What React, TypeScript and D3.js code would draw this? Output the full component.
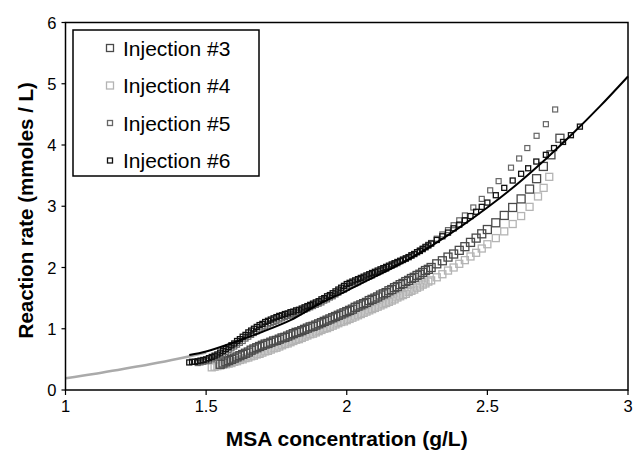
import React from "react";
import * as d3 from "d3";

const xTicks = [1, 1.5, 2, 2.5, 3];
const yTicks = [0, 1, 2, 3, 4, 5, 6];

const seriesNames = ["Injection #3", "Injection #4", "Injection #5", "Injection #6"];

const inj3X = [1.55,1.56,1.57,1.58,1.59,1.60,1.61,1.62,1.63,1.64,1.65,1.66,1.67,1.68,1.69,1.70,1.71,1.72,1.73,1.74,1.75,1.76,1.77,1.78,1.79,1.80,1.81,1.82,1.83,1.84,1.85,1.86,1.87,1.88,1.89,1.90,1.91,1.92,1.93,1.94,1.95,1.96,1.97,1.98,1.99,2.00,2.01,2.02,2.03,2.04,2.05,2.06,2.07,2.08,2.09,2.10,2.11,2.12,2.13,2.14,2.15,2.16,2.17,2.18,2.19,2.20,2.21,2.22,2.23,2.24,2.25,2.26,2.27,2.28,2.29,2.30,2.32,2.34,2.36,2.38,2.40,2.42,2.44,2.46,2.48,2.50,2.53,2.56,2.59,2.62,2.65,2.675,2.699,2.726,2.758];
const inj3Y = [0.42,0.44,0.46,0.48,0.50,0.52,0.54,0.56,0.58,0.60,0.62,0.65,0.67,0.69,0.71,0.73,0.75,0.76,0.78,0.80,0.81,0.83,0.85,0.86,0.88,0.90,0.92,0.94,0.95,0.97,0.99,1.01,1.03,1.04,1.06,1.08,1.10,1.12,1.14,1.16,1.18,1.20,1.22,1.24,1.26,1.28,1.30,1.32,1.35,1.37,1.39,1.41,1.43,1.46,1.48,1.50,1.52,1.55,1.57,1.59,1.62,1.64,1.67,1.69,1.72,1.74,1.77,1.79,1.82,1.84,1.87,1.89,1.92,1.95,1.97,2.00,2.06,2.11,2.17,2.22,2.28,2.34,2.41,2.48,2.55,2.62,2.73,2.85,2.98,3.12,3.28,3.45,3.65,3.84,4.11];

const inj4X = [1.52,1.53,1.54,1.55,1.56,1.57,1.58,1.59,1.60,1.61,1.62,1.63,1.64,1.65,1.66,1.67,1.68,1.69,1.70,1.71,1.72,1.73,1.74,1.75,1.76,1.77,1.78,1.79,1.80,1.81,1.82,1.83,1.84,1.85,1.86,1.87,1.88,1.89,1.90,1.91,1.92,1.93,1.94,1.95,1.96,1.97,1.98,1.99,2.00,2.01,2.02,2.03,2.04,2.05,2.06,2.07,2.08,2.09,2.10,2.11,2.12,2.13,2.14,2.15,2.16,2.17,2.18,2.19,2.20,2.21,2.22,2.23,2.24,2.25,2.26,2.27,2.28,2.29,2.30,2.32,2.34,2.36,2.38,2.40,2.42,2.44,2.46,2.48,2.50,2.53,2.56,2.59,2.62,2.65,2.68,2.70,2.72];
const inj4Y = [0.37,0.38,0.39,0.40,0.41,0.42,0.43,0.44,0.46,0.47,0.49,0.50,0.52,0.53,0.55,0.56,0.58,0.59,0.61,0.63,0.64,0.66,0.68,0.69,0.71,0.73,0.75,0.76,0.78,0.80,0.82,0.83,0.85,0.87,0.89,0.91,0.92,0.94,0.96,0.98,1.00,1.01,1.03,1.05,1.07,1.09,1.11,1.12,1.14,1.16,1.18,1.20,1.22,1.24,1.26,1.28,1.30,1.32,1.34,1.36,1.38,1.40,1.42,1.44,1.46,1.48,1.51,1.53,1.55,1.57,1.60,1.62,1.64,1.67,1.69,1.72,1.74,1.77,1.79,1.84,1.89,1.95,2.00,2.06,2.12,2.18,2.24,2.31,2.38,2.48,2.59,2.71,2.84,2.99,3.16,3.30,3.48];

const inj5X = [1.47,1.48,1.49,1.50,1.51,1.52,1.53,1.54,1.55,1.56,1.57,1.58,1.59,1.60,1.61,1.62,1.63,1.64,1.65,1.66,1.67,1.68,1.69,1.70,1.71,1.72,1.73,1.74,1.75,1.76,1.77,1.78,1.79,1.80,1.81,1.82,1.83,1.84,1.85,1.86,1.87,1.88,1.89,1.90,1.91,1.92,1.93,1.94,1.95,1.96,1.97,1.98,1.99,2.00,2.01,2.02,2.03,2.04,2.05,2.06,2.07,2.08,2.09,2.10,2.11,2.12,2.13,2.14,2.15,2.16,2.17,2.18,2.19,2.20,2.21,2.22,2.23,2.24,2.25,2.26,2.27,2.28,2.29,2.30,2.32,2.34,2.36,2.38,2.40,2.42,2.45,2.48,2.51,2.54,2.584,2.613,2.642,2.675,2.708,2.741];
const inj5Y = [0.44,0.45,0.46,0.47,0.48,0.50,0.52,0.54,0.56,0.59,0.62,0.65,0.68,0.71,0.74,0.77,0.80,0.84,0.87,0.90,0.93,0.96,0.99,1.02,1.04,1.07,1.09,1.11,1.13,1.15,1.17,1.19,1.21,1.22,1.24,1.26,1.27,1.29,1.31,1.33,1.35,1.37,1.39,1.41,1.43,1.46,1.48,1.51,1.53,1.56,1.59,1.62,1.64,1.67,1.70,1.72,1.74,1.76,1.79,1.81,1.83,1.85,1.87,1.90,1.92,1.94,1.96,1.98,2.01,2.03,2.05,2.07,2.10,2.12,2.14,2.17,2.19,2.22,2.25,2.28,2.31,2.34,2.37,2.40,2.47,2.54,2.61,2.69,2.77,2.85,2.98,3.12,3.26,3.41,3.63,3.78,3.95,4.15,4.34,4.58];

const inj6X = [1.44,1.45,1.46,1.47,1.48,1.49,1.50,1.51,1.52,1.53,1.54,1.55,1.56,1.57,1.58,1.59,1.60,1.61,1.62,1.63,1.64,1.65,1.66,1.67,1.68,1.69,1.70,1.71,1.72,1.73,1.74,1.75,1.76,1.77,1.78,1.79,1.80,1.81,1.82,1.83,1.84,1.85,1.86,1.87,1.88,1.89,1.90,1.91,1.92,1.93,1.94,1.95,1.96,1.97,1.98,1.99,2.00,2.01,2.02,2.03,2.04,2.05,2.06,2.07,2.08,2.09,2.10,2.11,2.12,2.13,2.14,2.15,2.16,2.17,2.18,2.19,2.20,2.21,2.22,2.23,2.24,2.25,2.26,2.27,2.28,2.29,2.30,2.32,2.34,2.36,2.38,2.40,2.42,2.44,2.46,2.48,2.50,2.53,2.56,2.59,2.62,2.645,2.674,2.708,2.737,2.769,2.797,2.829];
const inj6Y = [0.45,0.46,0.46,0.47,0.48,0.49,0.50,0.52,0.54,0.56,0.58,0.61,0.64,0.67,0.70,0.73,0.76,0.80,0.83,0.87,0.90,0.94,0.97,1.00,1.03,1.06,1.08,1.11,1.13,1.15,1.17,1.19,1.21,1.22,1.24,1.25,1.27,1.28,1.30,1.31,1.33,1.35,1.37,1.39,1.41,1.43,1.45,1.48,1.50,1.53,1.55,1.58,1.61,1.64,1.67,1.70,1.73,1.75,1.77,1.79,1.81,1.83,1.85,1.87,1.89,1.91,1.93,1.95,1.97,1.99,2.01,2.03,2.05,2.07,2.09,2.11,2.13,2.15,2.17,2.20,2.22,2.25,2.27,2.30,2.33,2.36,2.39,2.45,2.51,2.57,2.64,2.70,2.77,2.84,2.91,2.99,3.06,3.18,3.30,3.42,3.53,3.62,3.73,3.84,3.95,4.05,4.16,4.30];

const modelX = [1.44,1.5,1.6,1.7,1.8,1.9,2.0,2.1,2.2,2.3,2.4,2.5,2.6,2.7,2.8,2.9,3.0];
const modelY = [0.57,0.63,0.78,0.95,1.14,1.40,1.62,1.85,2.08,2.35,2.65,2.98,3.34,3.74,4.17,4.63,5.12];

const grayModelX = [1.0,1.1,1.2,1.3,1.4,1.45,1.5];
const grayModelY = [0.19,0.26,0.34,0.42,0.51,0.56,0.61];

const W = 636;
const H = 454;
const L = 65.5, R = 628, T = 22.5, B = 390;

export default function App() {
  const x = d3.scaleLinear().domain([1, 3]).range([L, R]);
  const y = d3.scaleLinear().domain([0, 6]).range([B, T]);
  const line = d3.line<[number, number]>().x(d => x(d[0])).y(d => y(d[1])).curve(d3.curveMonotoneX);

  const series = [
    { name: seriesNames[0], xs: inj3X, ys: inj3Y, color: "#4a4a4a", size: 8, sw: 1.3, lsize: 7 },
    { name: seriesNames[1], xs: inj4X, ys: inj4Y, color: "#b4b4b4", size: 7, sw: 1.3, lsize: 7 },
    { name: seriesNames[2], xs: inj5X, ys: inj5Y, color: "#666666", size: 5, sw: 1.2, lsize: 5 },
    { name: seriesNames[3], xs: inj6X, ys: inj6Y, color: "#111111", size: 5, sw: 1.3, lsize: 5 },
  ];
  const drawOrder = [1, 0, 2, 3];

  const font = "Liberation Sans, Arial, sans-serif";

  return (
    <svg width={W} height={H} style={{ position: "absolute", left: 0, top: 0, background: "#fff" }}>
      <rect x={0} y={0} width={W} height={H} fill="#fff" />
      <path d={line(grayModelX.map((v, i) => [v, grayModelY[i]]) as any) || ""} fill="none" stroke="#aaaaaa" strokeWidth={2.5} />
      {drawOrder.map(si => {
        const s = series[si];
        return (
          <g key={s.name}>
            {s.xs.map((v, i) => (
              <rect key={i} x={x(v) - s.size / 2} y={y(s.ys[i]) - s.size / 2} width={s.size} height={s.size}
                fill="none" stroke={s.color} strokeWidth={s.sw} />
            ))}
          </g>
        );
      })}
      <path d={line(modelX.map((v, i) => [v, modelY[i]]) as any) || ""} fill="none" stroke="#000" strokeWidth={2} />

      <rect x={L} y={T} width={R - L} height={B - T} fill="none" stroke="#000" strokeWidth={1.5} />
      {yTicks.map(t => (
        <g key={"y" + t}>
          <line x1={L - 4} x2={L} y1={y(t)} y2={y(t)} stroke="#000" strokeWidth={1.2} />
          <text x={L - 9} y={y(t) + 6} textAnchor="end" fontFamily={font} fontSize={16.5}>{t}</text>
        </g>
      ))}
      {xTicks.map(t => (
        <g key={"x" + t}>
          <line x1={x(t)} x2={x(t)} y1={B} y2={B + 5} stroke="#000" strokeWidth={1.2} />
          <text x={x(t)} y={B + 22} textAnchor="middle" fontFamily={font} fontSize={16.5}>{t}</text>
        </g>
      ))}
      <text x={(L + R) / 2} y={446} textAnchor="middle" fontFamily={font} fontSize={21} fontWeight="bold">MSA concentration (g/L)</text>
      <text transform={`translate(33,${(T + B) / 2 + 4}) rotate(-90)`} textAnchor="middle" fontFamily={font} fontSize={20.5} fontWeight="bold">Reaction rate (mmoles / L)</text>

      <rect x={73} y={30} width={186} height={146} fill="#fff" stroke="#000" strokeWidth={1.5} />
      {series.map((s, i) => {
        const cy = 48 + i * 37.5;
        return (
          <g key={"lg" + i}>
            <rect x={110 - s.lsize / 2} y={cy - s.lsize / 2} width={s.lsize} height={s.lsize} fill="none" stroke={s.color} strokeWidth={1.3} />
            <text x={123} y={cy + 7.5} fontFamily={font} fontSize={21}>{s.name}</text>
          </g>
        );
      })}
    </svg>
  );
}
